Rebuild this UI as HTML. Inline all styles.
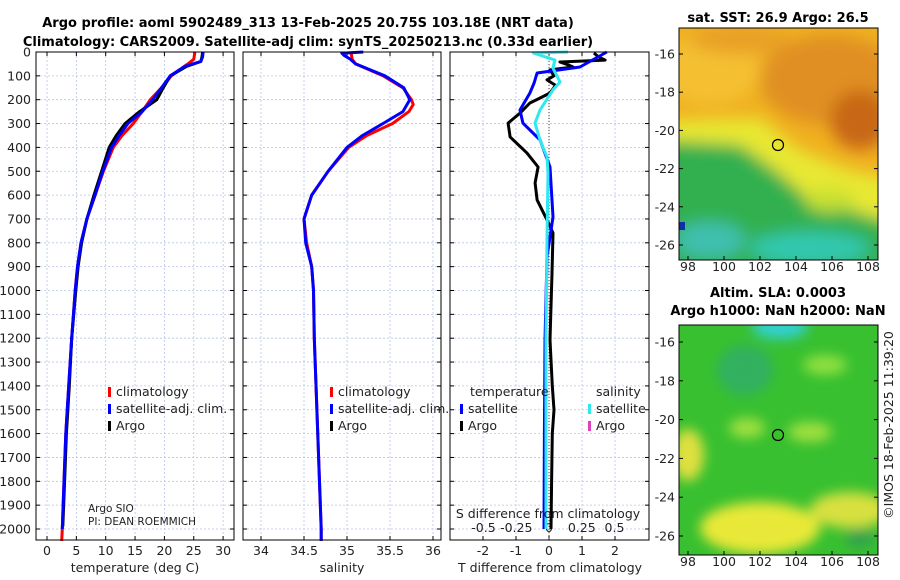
<!DOCTYPE html>
<html><head><meta charset="utf-8"><style>
body{margin:0;background:#fff;}
svg{display:block;font-family:"DejaVu Sans","Liberation Sans",sans-serif;}
.t{font-size:12.5px;fill:#222}
.b{font-weight:bold;font-size:13px;fill:#000}
</style></head><body>
<svg id="c" width="900" height="580" viewBox="0 0 900 580">
<defs>
<filter id="bl" x="-20%" y="-20%" width="140%" height="140%"><feGaussianBlur stdDeviation="8"/></filter>
<filter id="bl2" x="-20%" y="-20%" width="140%" height="140%"><feGaussianBlur stdDeviation="6"/></filter>
<clipPath id="m1"><rect x="679" y="28" width="199" height="232"/></clipPath>
<clipPath id="m2"><rect x="679" y="325" width="199" height="230"/></clipPath>
</defs>
<text class="b" x="308" y="27" text-anchor="middle">Argo profile: aoml 5902489_313 13-Feb-2025 20.75S 103.18E (NRT data)</text>
<text class="b" x="308" y="46" text-anchor="middle">Climatology: CARS2009. Satellite-adj clim: synTS_20250213.nc (0.33d earlier)</text>
<g id="panels"></g>
<!-- SST map -->
<g clip-path="url(#m1)">
<rect x="679" y="28" width="199" height="232" fill="#f0b020"/>
<g filter="url(#bl)">
<ellipse cx="710" cy="70" rx="50" ry="35" fill="#f4c030"/>
<ellipse cx="830" cy="80" rx="70" ry="45" fill="#e09020"/>
<ellipse cx="860" cy="120" rx="30" ry="30" fill="#c86818"/>
<ellipse cx="740" cy="40" rx="50" ry="14" fill="#e8a028"/>
<polygon points="660,120 760,118 800,150 850,170 900,180 900,225 660,225" fill="#e8e830"/>
<polygon points="660,140 740,145 775,170 810,200 850,210 900,225 900,290 660,290" fill="#30b050"/>
<ellipse cx="830" cy="200" rx="25" ry="12" fill="#c8e030"/>
<ellipse cx="810" cy="248" rx="60" ry="16" fill="#30c8b0"/>
<ellipse cx="710" cy="240" rx="35" ry="18" fill="#40c0b0"/>
</g>
<rect x="679" y="222" width="6" height="8" fill="#1030a0"/>
<circle cx="778" cy="145" r="5.5" fill="none" stroke="#000" stroke-width="1.2"/>
</g>
<rect x="679" y="28" width="199" height="232" fill="none" stroke="#000" stroke-width="1"/>
<text class="b" x="778" y="22" text-anchor="middle">sat. SST: 26.9 Argo: 26.5</text>
<!-- SLA map -->
<g clip-path="url(#m2)">
<rect x="679" y="325" width="199" height="230" fill="#38c030"/>
<g filter="url(#bl2)">
<ellipse cx="780" cy="327" rx="28" ry="12" fill="#30d0d0"/>
<ellipse cx="745" cy="370" rx="28" ry="25" fill="#30b060"/>
<ellipse cx="825" cy="365" rx="22" ry="10" fill="#90e040"/>
<ellipse cx="747" cy="428" rx="18" ry="10" fill="#a0e040"/>
<ellipse cx="810" cy="432" rx="22" ry="10" fill="#a0e040"/>
<ellipse cx="688" cy="455" rx="16" ry="26" fill="#e0e040"/>
<ellipse cx="760" cy="528" rx="60" ry="26" fill="#e8e838"/>
<ellipse cx="850" cy="510" rx="40" ry="18" fill="#d8e040"/>
<ellipse cx="860" cy="538" rx="15" ry="9" fill="#30a050"/>
</g>
<circle cx="778" cy="435" r="5.5" fill="none" stroke="#000" stroke-width="1.2"/>
</g>
<rect x="679" y="325" width="199" height="230" fill="none" stroke="#000" stroke-width="1"/>
<text class="b" x="778" y="297" text-anchor="middle">Altim. SLA: 0.0003</text>
<text class="b" x="778" y="315" text-anchor="middle">Argo h1000: NaN h2000: NaN</text>
<text class="t" x="0" y="0" transform="translate(893,425) rotate(-90)" text-anchor="middle">©IMOS 18-Feb-2025 11:39:20</text>
<g id="maxes"></g>
</svg>
<script>
var depthTicks=[0,100,200,300,400,500,600,700,800,900,1000,1100,1200,1300,1400,1500,1600,1700,1800,1900,2000];
var tempTicks=[0,5,10,15,20,25,30];
var salTicks=[34,34.5,35,35.5,36];
var salTickLabels=["34","34.5","35","35.5","36"];
var tdTicks=[-2,-1,0,1,2];
var sdTickVals=[-0.5,-0.25,0,0.25,0.5];
var sdTickLabels=["-0.5","-0.25","0","0.25","0.5"];
var lonTicks=[98,100,102,104,106,108];
var latTicks=[-16,-18,-20,-22,-24,-26];

var tClimD=[0,30,50,100,150,200,250,300,350,400,500,600,700,800,900,1000,1200,1400,1600,1800,2000,2050];
var tClimV=[25.2,25,24,21.2,19.5,17.6,16.2,14.7,12.8,11.3,9.6,8.2,6.8,5.8,5.2,4.8,4.2,3.7,3.2,2.9,2.6,2.5];
var tSatD=[0,20,40,60,100,150,200,250,300,350,400,500,600,700,800,900,1000,1200,1400,1600,1800,2000];
var tSatV=[26.6,26.5,26.2,23.5,21,19.5,18,16.2,13.8,12.3,11,9.5,8.2,6.8,5.8,5.2,4.8,4.2,3.7,3.2,2.9,2.6];
var tArgoD=[0,20,40,60,100,150,200,250,300,350,400,500,600,700,800,900,1000,1200,1400,1600,1800,1990];
var tArgoV=[26.5,26.4,26.2,23.8,21,19.8,18.7,15.8,13.3,11.8,10.6,9.3,8.0,6.8,5.9,5.3,4.9,4.2,3.8,3.3,3.0,2.7];

var sClimD=[0,10,30,50,100,150,200,220,250,300,350,400,500,600,700,800,900,1000,1200,1500,2000,2050];
var sClimV=[35.07,35.05,35.06,35.1,35.42,35.65,35.75,35.77,35.72,35.53,35.23,35.02,34.78,34.59,34.5,34.53,34.59,34.61,34.62,34.65,34.7,34.7];
var sSatD=[0,5,15,30,50,100,150,200,250,300,350,400,500,600,700,800,900,1000,1200,1500,2000,2050];
var sSatV=[35.19,34.94,34.97,35.04,35.1,35.44,35.66,35.73,35.65,35.42,35.18,35.0,34.78,34.59,34.5,34.52,34.59,34.61,34.62,34.65,34.7,34.7];

var dTArgoD=[4,20,34,42,55,63,75,100,117,140,172,195,214,256,298,356,423,482,549,620,704,759,927,1207,1400,1500,1600,1800,2000];
var dTArgoV=[1.36,1.5,1.7,0.33,0.6,0.73,0.03,0.15,-0.06,0.2,0.03,-0.3,-0.58,-0.88,-1.24,-1.18,-0.67,-0.33,-0.42,-0.36,-0.06,0.12,0.09,0.03,0.1,0.15,0.1,0.08,0.06];
var dTSatD=[0,63,88,130,172,243,298,369,482,692,860,1207,1600,2000];
var dTSatV=[1.75,0.94,-0.36,-0.45,-0.58,-0.88,-0.79,-0.27,0.03,0.12,-0.06,-0.12,-0.14,-0.15];
var dSSatD=[0,4,34,67,126,159,243,298,369,440,507,788,1207,2000];
var dSSatV=[0.145,-0.12,0.046,0.03,0.084,0.03,-0.069,-0.107,-0.069,-0.015,-0.008,-0.015,-0.023,-0.023];

var NS="http://www.w3.org/2000/svg";
var G=document.getElementById('panels');
function el(tag,at,par){var e=document.createElementNS(NS,tag);for(var k in at)e.setAttribute(k,at[k]);(par||G).appendChild(e);return e;}
var Y0=52,YS=0.2385,YB=540;
function yD(d){return Y0+d*YS;}
var P1={x0:36,x1:234,f:function(v){return 47+v*5.87;}};
var P2={x0:243,x1:441,f:function(v){return 261+(v-34)*86;}};
var P3={x0:450,x1:649,f:function(v){return 549+v*33;}};
var fS=function(v){return 549+v*131;};
[P1,P2,P3].forEach(function(p,i){
  depthTicks.forEach(function(d){
    var y=yD(d);
    var g=el('line',{x1:p.x0,x2:p.x1,y1:y,y2:y,stroke:'#b8c4e8','stroke-width':0.8,'stroke-dasharray':'2,2'});
    
    
    el('line',{x1:p.x0,x2:p.x0+4,y1:y,y2:y,stroke:'#000'});
    el('line',{x1:p.x1-4,x2:p.x1,y1:y,y2:y,stroke:'#000'});
    if(i==0){var t=el('text',{x:31,y:y+4.5,'text-anchor':'end','class':'t'});t.textContent=d;
      
      }
  });
});
function xticks(p,vals,labels,ly){
  vals.forEach(function(v,j){var x=p.f(v);
    var g=el('line',{x1:x,x2:x,y1:Y0,y2:YB,stroke:'#b8c4e8','stroke-width':0.8,'stroke-dasharray':'2,2'});
    
    
    el('line',{x1:x,x2:x,y1:YB-4,y2:YB,stroke:'#000'});
    el('line',{x1:x,x2:x,y1:Y0,y2:Y0+4,stroke:'#000'});
    var t=el('text',{x:x,y:ly,'text-anchor':'middle','class':'t'});t.textContent=labels[j];
    
    
  });
}
xticks(P1,tempTicks,tempTicks,555);
xticks(P2,salTicks,salTickLabels,555);
xticks(P3,tdTicks,tdTicks,555);
sdTickVals.forEach(function(v,j){var t=el('text',{x:fS(v),y:532,'text-anchor':'middle','class':'t'});t.textContent=sdTickLabels[j];
  
  });
var z=el('line',{x1:549,x2:549,y1:Y0,y2:YB,stroke:'#444','stroke-width':1,'stroke-dasharray':'1,2'});


function line(D,V,fx,col,w,name){
  var pts=D.map(function(d,i){return fx(V[i]).toFixed(1)+','+yD(d).toFixed(1);}).join(' ');
  var p=el('polyline',{points:pts,fill:'none',stroke:col,'stroke-width':w,'stroke-linejoin':'round'});
  
  
}
line(tClimD,tClimV,P1.f,'#ff0000',3,'temp-climatology-line');
line(tArgoD,tArgoV,P1.f,'#000000',3,'temp-argo-line');
line(tSatD,tSatV,P1.f,'#0000ff',3,'temp-satellite-line');
line(sClimD,sClimV,P2.f,'#ff0000',3,'salinity-climatology-line');
line(sSatD,sSatV,P2.f,'#0000ff',3,'salinity-satellite-line');
line(dTArgoD,dTArgoV,P3.f,'#000000',3,'tdiff-argo-line');
line(dTSatD,dTSatV,P3.f,'#0000ff',3,'tdiff-satellite-line');
line(dSSatD,dSSatV,fS,'#30e8f0',3,'sdiff-satellite-line');
[P1,P2,P3].forEach(function(p){var r=el('rect',{x:p.x0,y:Y0,width:p.x1-p.x0,height:YB-Y0,fill:'none',stroke:'#000'});
  
  });
function txt(x,y,s,name,anchor,size){var t=el('text',{x:x,y:y,'class':'t','text-anchor':anchor||'start'});if(size)t.setAttribute('style','font-size:'+size+'px');t.textContent=s;
  
  return t;}
function leg(x,y,col,s,name){el('rect',{x:x,y:y-9,width:3,height:10,fill:col});txt(x+8,y,s,name);}
leg(108,396,'#ff0000','climatology','legend-climatology');
leg(108,413,'#0000ff','satellite-adj. clim.','legend-satellite');
leg(108,430,'#000000','Argo','legend-argo');
leg(330,396,'#ff0000','climatology','legend-climatology-2');
leg(330,413,'#0000ff','satellite-adj. clim.','legend-satellite-2');
leg(330,430,'#000000','Argo','legend-argo-2');
txt(470,396,'temperature','legend-temperature-title');
leg(460,413,'#0000ff','satellite','legend-t-satellite');
leg(460,430,'#000000','Argo','legend-t-argo');
txt(596,396,'salinity','legend-salinity-title');
leg(588,413,'#30e8f0','satellite','legend-s-satellite');
leg(588,430,'#e040c0','Argo','legend-s-argo');
txt(88,512,'Argo SIO','argo-sio-label','start',10.5);
txt(88,525,'PI: DEAN ROEMMICH','pi-label','start',10.5);
txt(548,518,'S difference from climatology','s-diff-axis-title','middle');
txt(135,572,'temperature (deg C)','temp-axis-title','middle');
txt(342,572,'salinity','salinity-axis-title','middle');
txt(550,572,'T difference from climatology','t-diff-axis-title','middle');
var M=document.getElementById('maxes');
function lonX(v){return 688+(v-98)*18;}
[[28,260,54,245,271],[325,555,342,536,566]].forEach(function(m){
  function latY(v){return m[2]+(v-(-16))*(m[3]-m[2])/(-10);}
  latTicks.forEach(function(v){var y=latY(v);
    el('line',{x1:679,x2:683,y1:y,y2:y,stroke:'#000'},M);el('line',{x1:874,x2:878,y1:y,y2:y,stroke:'#000'},M);
    var t=el('text',{x:675,y:y+4.5,'text-anchor':'end','class':'t'},M);t.textContent=v;
    
    });
  lonTicks.forEach(function(v){var x=lonX(v);
    el('line',{x1:x,x2:x,y1:m[1]-4,y2:m[1],stroke:'#000'},M);
    var t=el('text',{x:x,y:m[4],'text-anchor':'middle','class':'t'},M);t.textContent=v;
    
    });
});
</script>
</body></html>
